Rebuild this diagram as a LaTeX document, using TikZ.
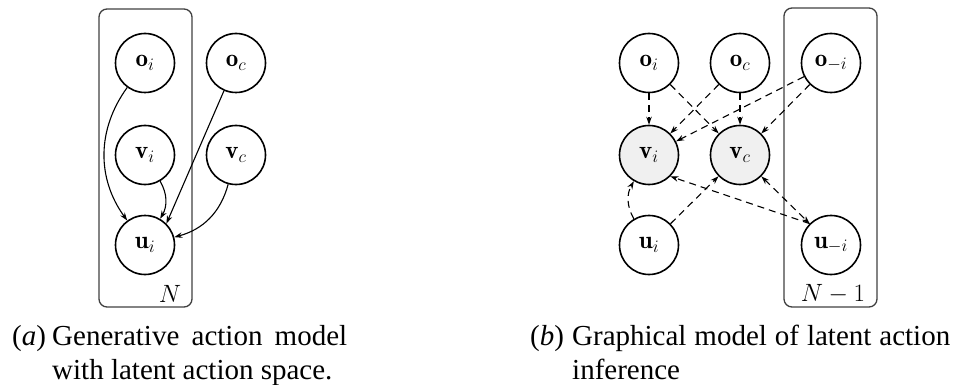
\RequirePackage{fix-cm}
\documentclass[tikz,border=0pt]{standalone}
\usepackage{fontspec}
\newfontfamily\capfont{Liberation Serif}
\usetikzlibrary{arrows.meta}
\begin{document}
\begin{tikzpicture}[x=1pt,y=1pt,
  var/.style={circle,draw,line width=1.6pt,minimum size=59pt,inner sep=0pt,font=\fontsize{25}{30}\selectfont},
  obs/.style={var,fill=black!6},
  plate/.style={draw=black!75,line width=1.3pt,rounded corners=8pt},
  lbl/.style={inner sep=0pt,font=\fontsize{25}{30}\selectfont},
  arr/.style={line width=1.1pt,-{Stealth[length=8pt,width=5.5pt]}},
  darr/.style={arr,dash pattern=on 7pt off 5pt},
  captxt/.style={inner sep=0pt,anchor=base west,font=\capfont\fontsize{29}{35}\selectfont}]
\useasboundingbox (0,0) rectangle (961,-385);

% ---- panel (a)
\draw[plate] (99,-9) rectangle (192,-307);
\node[var] (oi) at (145,-63) {$\mathbf{o}_i$};
\node[var] (oc) at (236,-63) {$\mathbf{o}_c$};
\node[var] (vi) at (145,-155) {$\mathbf{v}_i$};
\node[var] (vc) at (236,-155) {$\mathbf{v}_c$};
\node[var] (ui) at (145,-245) {$\mathbf{u}_i$};
\node[lbl] (Na) at (170,-294) {$N$};

\draw[arr] (oi) to[bend right=36] (ui);
\draw[arr] (vi) to[bend left=30] (ui);
\draw[arr] (oc) -- (ui.north east);
\draw[arr] (vc) to[out=-105,in=15] (ui);

% ---- panel (b)
\draw[plate] (784,-8) rectangle (877,-307);
\node[var] (oi2) at (649,-63) {$\mathbf{o}_i$};
\node[var] (oc2) at (740,-63) {$\mathbf{o}_c$};
\node[var] (omi) at (831,-63) {$\mathbf{o}_{-i}$};
\node[obs] (vi2) at (649,-155) {$\mathbf{v}_i$};
\node[obs] (vc2) at (740,-155) {$\mathbf{v}_c$};
\node[var] (ui2) at (649,-245) {$\mathbf{u}_i$};
\node[var] (umi) at (831,-245) {$\mathbf{u}_{-i}$};
\node[lbl] (Nb) at (833,-294) {$N-1$};

\draw[darr] (oi2) -- (vi2);
\draw[darr] (oi2) -- (vc2);
\draw[darr] (oc2) -- (vi2);
\draw[darr] (oc2) -- (vc2);
\draw[darr] (omi) -- (vi2);
\draw[darr] (omi) -- (vc2);
\draw[darr] (ui2) to[bend left=30] (vi2);
\draw[darr] (ui2) -- (vc2);
\draw[darr] (umi.north west) -- (vi2.south east);
\draw[darr,{Stealth[length=8pt,width=5.5pt]}-{Stealth[length=8pt,width=5.5pt]}] (vc2.south east) -- (umi.north west);

% ---- captions
\node[captxt] (capa) at (12,-345) {(\textit{a})};
\node[captxt] (capa1) at (52,-345) {\makebox[295pt][s]{Generative action model}};
\node[captxt] (capa2) at (52,-379) {with latent action space.};
\node[captxt] (capb) at (530,-345) {(\textit{b})};
\node[captxt] (capb1) at (572,-345) {\makebox[378pt][s]{Graphical model of latent action}};
\node[captxt] (capb2) at (572,-379) {inference};
\end{tikzpicture}
\end{document}
